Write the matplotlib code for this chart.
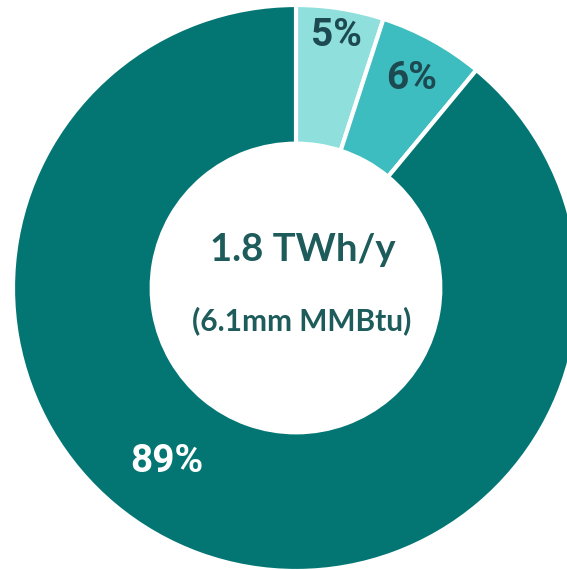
import numpy as np
import matplotlib.pyplot as plt
from matplotlib.font_manager import FontProperties

# Data
shares = [5, 6, 89]
labels = ['5%', '6%', '89%']
colors = ['#8fdfdd', '#3dbdbf', '#037674']
label_colors = ['#1d4a50', '#1d4a50', 'white']
centre_title = '1.8 TWh/y'
centre_sub = '(6.1mm MMBtu)'

pct_font = FontProperties(family='Roboto', weight='bold', size=28)
title_font = FontProperties(family='Lato', weight='bold', size=27.5)
sub_font = FontProperties(family='Lato', weight='bold', size=21.5)

fig = plt.figure(figsize=(5.67, 5.70), dpi=100)
ax = fig.add_axes([0, 0, 1, 1])

R = 283.0  # outer radius in pixels
wedges, _ = ax.pie(shares, colors=colors, startangle=90, counterclock=False,
                   radius=1, wedgeprops=dict(width=0.49, edgecolor='white', linewidth=3))

# percentage labels: small slices at wedge midpoint, big one lower left
label_r = [0.905, 0.845, 0.765]
label_shift = [0, 0, 17]  # extra degrees clockwise
start = 0
for w, lab, col, r, sh in zip(shares, labels, label_colors, label_r, label_shift):
    mid = start + w / 2
    start += w
    ang = np.deg2rad(90 - mid * 3.6 - sh)
    ax.text(r * np.cos(ang), r * np.sin(ang), lab, color=col,
            fontproperties=pct_font, ha='center', va='center')

ax.text(0.025, 0.135, centre_title, color='#1e5c5c', fontproperties=title_font,
        ha='center', va='center')
ax.text(0.02, -0.115, centre_sub, color='#1e5c5c', fontproperties=sub_font,
        ha='center', va='center')

ax.set_xlim(-296 / R, (567 - 296) / R)
ax.set_ylim(-(570 - 288) / R, 288 / R)
ax.set_aspect('auto')
ax.axis('off')

fig.savefig('out.png', dpi=100, facecolor='white')
